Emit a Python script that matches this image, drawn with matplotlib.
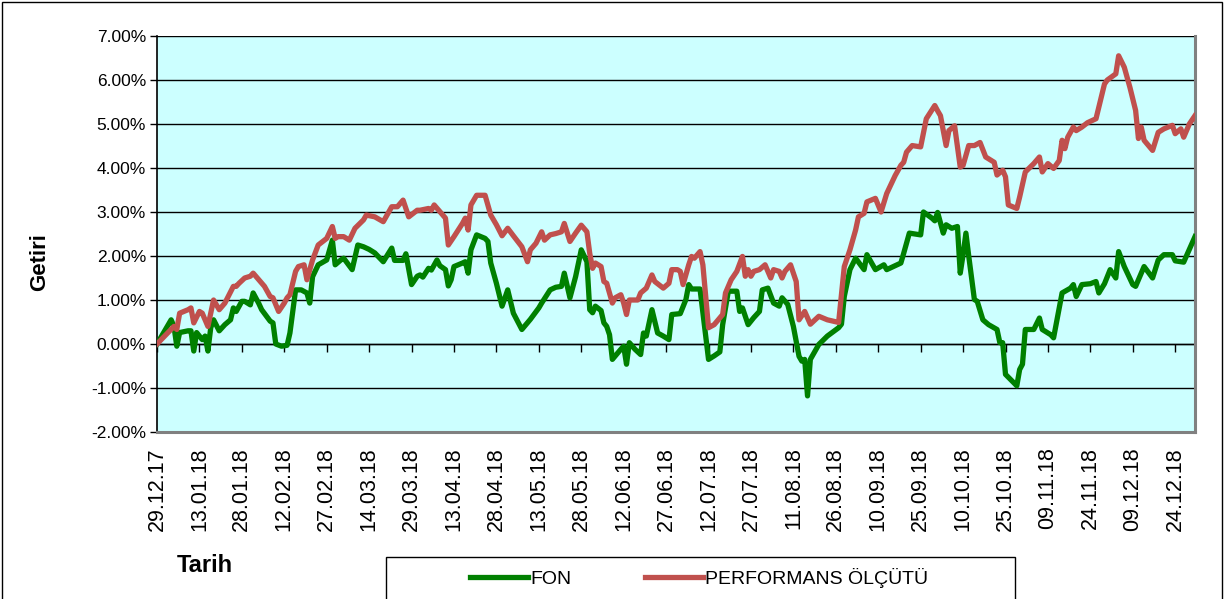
import matplotlib
matplotlib.use("Agg")
import matplotlib.pyplot as plt
from matplotlib.ticker import FuncFormatter
from matplotlib.patches import Rectangle
import pandas as pd

# ---------------- data (cumulative return, %) ----------------
fon_dates = [
    "2017-12-29", "2018-01-03", "2018-01-04", "2018-01-05", "2018-01-06", "2018-01-09", "2018-01-10",
    "2018-01-11", "2018-01-12", "2018-01-14", "2018-01-15", "2018-01-16", "2018-01-17", "2018-01-18",
    "2018-01-20", "2018-01-22", "2018-01-24", "2018-01-25", "2018-01-26", "2018-01-28", "2018-01-29",
    "2018-01-31",
    "2018-02-01", "2018-02-03", "2018-02-04", "2018-02-07", "2018-02-08", "2018-02-09", "2018-02-11",
    "2018-02-13", "2018-02-14", "2018-02-16", "2018-02-18", "2018-02-20", "2018-02-21", "2018-02-22",
    "2018-02-24", "2018-02-27",
    "2018-03-01", "2018-03-02", "2018-03-04", "2018-03-05", "2018-03-08", "2018-03-10", "2018-03-12",
    "2018-03-14", "2018-03-16", "2018-03-19", "2018-03-22", "2018-03-23", "2018-03-26", "2018-03-27",
    "2018-03-29", "2018-03-31",
    "2018-04-01", "2018-04-02", "2018-04-04", "2018-04-05", "2018-04-07", "2018-04-08", "2018-04-10",
    "2018-04-11", "2018-04-12", "2018-04-13", "2018-04-16", "2018-04-17", "2018-04-18", "2018-04-19",
    "2018-04-21", "2018-04-24", "2018-04-25", "2018-04-26", "2018-04-28", "2018-04-30",
    "2018-05-02", "2018-05-04", "2018-05-07", "2018-05-10", "2018-05-13", "2018-05-14", "2018-05-17",
    "2018-05-19", "2018-05-21", "2018-05-22", "2018-05-24", "2018-05-26", "2018-05-28", "2018-05-30",
    "2018-05-31",
    "2018-06-01", "2018-06-02", "2018-06-04", "2018-06-05", "2018-06-06", "2018-06-07", "2018-06-08",
    "2018-06-11", "2018-06-12", "2018-06-13", "2018-06-14", "2018-06-16", "2018-06-18", "2018-06-19",
    "2018-06-20", "2018-06-22", "2018-06-24", "2018-06-26", "2018-06-28", "2018-06-29",
    "2018-07-02", "2018-07-04", "2018-07-05", "2018-07-06", "2018-07-09", "2018-07-12", "2018-07-14",
    "2018-07-16", "2018-07-17", "2018-07-19", "2018-07-22", "2018-07-23", "2018-07-24", "2018-07-26",
    "2018-07-28", "2018-07-30", "2018-07-31",
    "2018-08-02", "2018-08-04", "2018-08-06", "2018-08-07", "2018-08-09", "2018-08-11", "2018-08-13",
    "2018-08-14", "2018-08-15", "2018-08-16", "2018-08-17", "2018-08-20", "2018-08-23", "2018-08-27",
    "2018-08-28", "2018-08-29", "2018-08-31",
    "2018-09-02", "2018-09-05", "2018-09-06", "2018-09-09", "2018-09-12", "2018-09-13", "2018-09-18",
    "2018-09-19", "2018-09-21", "2018-09-25", "2018-09-26", "2018-09-29", "2018-09-30",
    "2018-10-01", "2018-10-03", "2018-10-04", "2018-10-06", "2018-10-08", "2018-10-09", "2018-10-10",
    "2018-10-11", "2018-10-12", "2018-10-14", "2018-10-15", "2018-10-17", "2018-10-19", "2018-10-22",
    "2018-10-23", "2018-10-24", "2018-10-25", "2018-10-29", "2018-10-30", "2018-10-31",
    "2018-11-01", "2018-11-04", "2018-11-06", "2018-11-07", "2018-11-10", "2018-11-11", "2018-11-13",
    "2018-11-14", "2018-11-17", "2018-11-18", "2018-11-19", "2018-11-21", "2018-11-24", "2018-11-26",
    "2018-11-27", "2018-11-29",
    "2018-12-01", "2018-12-03", "2018-12-04", "2018-12-06", "2018-12-09", "2018-12-10", "2018-12-13",
    "2018-12-16", "2018-12-18", "2018-12-20", "2018-12-23", "2018-12-24", "2018-12-27", "2018-12-31",
]
fon_values = [
    0.00, 0.55, 0.40, -0.05, 0.26, 0.30, 0.30, -0.16, 0.26, 0.10, 0.18, -0.16, 0.37, 0.55, 0.30, 0.44,
    0.55, 0.82, 0.74, 0.97, 0.97, 0.89,
    1.16, 0.92, 0.78, 0.52, 0.48, 0.00, -0.05, -0.03, 0.25, 1.23, 1.23, 1.16, 0.93, 1.53, 1.80, 1.91,
    2.36, 1.80, 1.91, 1.95, 1.69, 2.25, 2.21, 2.15, 2.07, 1.87, 2.18, 1.90, 1.90, 2.05, 1.35, 1.54,
    1.57, 1.52, 1.72, 1.68, 1.91, 1.78, 1.69, 1.32, 1.46, 1.76, 1.84, 1.87, 1.61, 2.14, 2.48, 2.40,
    2.33, 1.84, 1.38, 0.86,
    1.23, 0.70, 0.33, 0.56, 0.82, 0.93, 1.23, 1.29, 1.31, 1.61, 1.05, 1.53, 2.14, 1.87, 0.78,
    0.71, 0.86, 0.76, 0.48, 0.40, 0.21, -0.35, -0.12, -0.05, -0.46, 0.03, -0.12, -0.24, 0.25, 0.18,
    0.78, 0.25, 0.18, 0.10, 0.67,
    0.69, 1.01, 1.35, 1.25, 1.25, -0.35, -0.27, -0.18, 0.44, 1.20, 1.20, 0.74, 0.82, 0.44, 0.60,
    0.74, 1.23,
    1.27, 0.93, 0.86, 1.05, 0.90, 0.40, -0.28, -0.39, -0.35, -1.18, -0.35, -0.01, 0.18, 0.37, 0.45,
    1.08, 1.69,
    1.95, 1.69, 2.03, 1.69, 1.80, 1.69, 1.84, 2.06, 2.52, 2.48, 3.00, 2.86, 2.80,
    2.99, 2.52, 2.71, 2.63, 2.67, 1.61, 2.03, 2.52, 2.00, 1.01, 0.97, 0.55, 0.44, 0.33, 0.03, 0.03,
    -0.69, -0.95, -0.58, -0.46,
    0.33, 0.33, 0.59, 0.33, 0.21, 0.14, 0.82, 1.16, 1.27, 1.35, 1.08, 1.35, 1.37, 1.42, 1.16, 1.37,
    1.69, 1.50, 2.10, 1.76, 1.35, 1.31, 1.76, 1.50, 1.91, 2.03, 2.03, 1.89, 1.86, 2.44,
]

perf_dates = [
    "2017-12-29", "2018-01-04", "2018-01-05", "2018-01-06", "2018-01-09", "2018-01-10", "2018-01-11",
    "2018-01-13", "2018-01-14", "2018-01-16", "2018-01-18", "2018-01-20", "2018-01-22", "2018-01-25",
    "2018-01-26", "2018-01-27", "2018-01-29", "2018-01-31",
    "2018-02-01", "2018-02-03", "2018-02-05", "2018-02-07", "2018-02-08", "2018-02-10", "2018-02-12",
    "2018-02-13", "2018-02-14", "2018-02-16", "2018-02-17", "2018-02-19", "2018-02-20", "2018-02-22",
    "2018-02-24", "2018-02-27",
    "2018-03-01", "2018-03-02", "2018-03-03", "2018-03-05", "2018-03-07", "2018-03-09", "2018-03-12",
    "2018-03-13", "2018-03-16", "2018-03-19", "2018-03-22", "2018-03-24", "2018-03-26", "2018-03-28",
    "2018-03-31",
    "2018-04-01", "2018-04-04", "2018-04-05", "2018-04-06", "2018-04-08", "2018-04-10", "2018-04-11",
    "2018-04-13", "2018-04-16", "2018-04-17", "2018-04-18", "2018-04-19", "2018-04-21", "2018-04-24",
    "2018-04-26", "2018-04-28", "2018-04-30",
    "2018-05-02", "2018-05-04", "2018-05-07", "2018-05-09", "2018-05-10", "2018-05-12", "2018-05-14",
    "2018-05-15", "2018-05-17", "2018-05-19", "2018-05-21", "2018-05-22", "2018-05-24", "2018-05-26",
    "2018-05-28", "2018-05-30", "2018-05-31",
    "2018-06-01", "2018-06-02", "2018-06-04", "2018-06-05", "2018-06-06", "2018-06-08", "2018-06-09",
    "2018-06-11", "2018-06-12", "2018-06-13", "2018-06-14", "2018-06-17", "2018-06-18", "2018-06-20",
    "2018-06-22", "2018-06-23", "2018-06-26", "2018-06-28", "2018-06-29",
    "2018-07-01", "2018-07-02", "2018-07-03", "2018-07-05", "2018-07-06", "2018-07-07", "2018-07-09",
    "2018-07-10", "2018-07-12", "2018-07-14", "2018-07-17", "2018-07-18", "2018-07-20", "2018-07-22",
    "2018-07-24", "2018-07-25", "2018-07-26", "2018-07-27", "2018-07-28", "2018-07-30",
    "2018-08-01", "2018-08-03", "2018-08-04", "2018-08-06", "2018-08-07", "2018-08-08", "2018-08-10",
    "2018-08-12", "2018-08-13", "2018-08-15", "2018-08-17", "2018-08-20", "2018-08-23", "2018-08-27",
    "2018-08-29", "2018-08-31",
    "2018-09-02", "2018-09-03", "2018-09-05", "2018-09-06", "2018-09-09", "2018-09-11", "2018-09-13",
    "2018-09-16", "2018-09-18", "2018-09-19", "2018-09-20", "2018-09-22", "2018-09-25", "2018-09-27",
    "2018-09-30",
    "2018-10-01", "2018-10-02", "2018-10-04", "2018-10-05", "2018-10-07", "2018-10-09", "2018-10-10",
    "2018-10-12", "2018-10-14", "2018-10-16", "2018-10-18", "2018-10-21", "2018-10-22", "2018-10-24",
    "2018-10-25", "2018-10-26", "2018-10-29", "2018-10-30",
    "2018-11-01", "2018-11-04", "2018-11-06", "2018-11-07", "2018-11-09", "2018-11-11", "2018-11-13",
    "2018-11-14", "2018-11-15", "2018-11-16", "2018-11-18", "2018-11-19", "2018-11-21", "2018-11-23",
    "2018-11-26", "2018-11-29", "2018-11-30",
    "2018-12-03", "2018-12-04", "2018-12-06", "2018-12-08", "2018-12-10", "2018-12-11", "2018-12-12",
    "2018-12-13", "2018-12-16", "2018-12-18", "2018-12-20", "2018-12-23", "2018-12-24", "2018-12-26",
    "2018-12-27", "2018-12-29", "2018-12-31",
]
perf_values = [
    0.00, 0.40, 0.33, 0.70, 0.78, 0.82, 0.48, 0.74, 0.70, 0.40, 1.00, 0.78, 0.93, 1.31, 1.31, 1.38,
    1.50, 1.54,
    1.61, 1.46, 1.31, 1.08, 1.05, 0.74, 0.93, 1.05, 1.12, 1.65, 1.76, 1.80, 1.46, 1.91, 2.25, 2.40,
    2.67, 2.40, 2.44, 2.44, 2.36, 2.63, 2.82, 2.93, 2.89, 2.78, 3.12, 3.12, 3.27, 2.89, 3.04,
    3.04, 3.08, 3.04, 3.16, 3.01, 2.86, 2.25, 2.44, 2.74, 2.86, 2.59, 3.16, 3.38, 3.38, 2.93, 2.71,
    2.46,
    2.63, 2.46, 2.21, 1.87, 2.14, 2.29, 2.55, 2.36, 2.48, 2.51, 2.55, 2.74, 2.33, 2.52, 2.70, 2.55,
    2.06,
    1.72, 1.84, 1.76, 1.42, 1.38, 0.93, 1.05, 1.12, 0.93, 0.67, 1.00, 1.00, 1.16, 1.27, 1.57, 1.42,
    1.27, 1.38, 1.69,
    1.69, 1.65, 1.35, 1.80, 1.99, 1.95, 2.10, 1.80, 0.37, 0.44, 0.67, 1.16, 1.46, 1.65, 1.99, 1.54,
    1.69, 1.54, 1.65, 1.69,
    1.80, 1.50, 1.69, 1.65, 1.50, 1.65, 1.80, 1.42, 0.55, 0.74, 0.45, 0.63, 0.55, 0.49, 1.76, 2.14,
    2.59, 2.89, 2.97, 3.23, 3.31, 3.00, 3.42, 3.83, 4.06, 4.13, 4.36, 4.51, 4.48, 5.12, 5.42,
    5.30, 5.19, 4.51, 4.85, 4.96, 4.02, 4.06, 4.51, 4.51, 4.58, 4.25, 4.13, 3.84, 3.95, 3.80, 3.16,
    3.08, 3.34,
    3.91, 4.10, 4.25, 3.91, 4.10, 3.99, 4.17, 4.63, 4.44, 4.70, 4.93, 4.85, 4.93, 5.03, 5.12, 5.91,
    6.00,
    6.14, 6.55, 6.29, 5.83, 5.31, 4.67, 4.93, 4.63, 4.40, 4.81, 4.89, 4.97, 4.78, 4.89, 4.70, 5.00,
    5.19,
]

x_tick_labels = [
    "29.12.17", "13.01.18", "28.01.18", "12.02.18", "27.02.18", "14.03.18", "29.03.18", "13.04.18",
    "28.04.18", "13.05.18", "28.05.18", "12.06.18", "27.06.18", "12.07.18", "27.07.18", "11.08.18",
    "26.08.18", "10.09.18", "25.09.18", "10.10.18", "25.10.18", "09.11.18", "24.11.18", "09.12.18",
    "24.12.18",
]
y_ticks = [-2, -1, 0, 1, 2, 3, 4, 5, 6, 7]
series_names = ["FON", "PERFORMANS ÖLÇÜTÜ"]
x_start, x_end = "2017-12-29", "2018-12-31"

# ---------------- figure ----------------
plt.rcParams["font.family"] = ["Liberation Sans", "DejaVu Sans"]
W, H = 1227, 599
fig = plt.figure(figsize=(W / 100, H / 100), dpi=100)
fig.patch.set_facecolor("white")

L, R, T, B = 157, 1195, 36, 432
ax = fig.add_axes([L / W, 1 - B / H, (R - L) / W, (B - T) / H])
ax.set_facecolor("#CCFFFF")

fon_x = pd.to_datetime(fon_dates)
perf_x = pd.to_datetime(perf_dates)
l_fon, = ax.plot(fon_x, fon_values, color="#008000", lw=3.8, solid_joinstyle="round", zorder=3)
l_perf, = ax.plot(perf_x, perf_values, color="#C0504D", lw=3.8, solid_joinstyle="round", zorder=4)

ax.set_xlim(pd.Timestamp(x_start), pd.Timestamp(x_end))
ax.set_ylim(min(y_ticks), max(y_ticks))
ax.set_yticks(y_ticks)
ax.yaxis.set_major_formatter(FuncFormatter(lambda v, p: f"{v:.2f}%"))
ax.yaxis.grid(True, color="black", lw=1.0)
ax.set_axisbelow(True)
ax.tick_params(axis="y", direction="out", length=5, width=1, color="black",
               labelsize=12.5, pad=3)

tick_dates = pd.to_datetime(x_tick_labels, format="%d.%m.%y")
ax.set_xticks(tick_dates)
ax.set_xticklabels(x_tick_labels, rotation=90, fontsize=15.5, va="top", ha="center")
ax.tick_params(axis="x", length=0, pad=11)

ax.spines["top"].set_visible(False)
ax.spines["left"].set_color("black")
ax.spines["left"].set_linewidth(1.2)
ax.spines["right"].set_color("#808080")
ax.spines["right"].set_linewidth(2.2)
ax.spines["bottom"].set_color("#808080")
ax.spines["bottom"].set_linewidth(2.2)

# category axis crossing at 0 with tick marks
zero_pos = (0 - min(y_ticks)) / (max(y_ticks) - min(y_ticks))
sec = ax.secondary_xaxis(zero_pos)
sec.set_xticks(tick_dates)
sec.tick_params(axis="x", direction="out", length=6, width=1, color="black", labelbottom=False,
                labeltop=False)
sec.spines["bottom"].set_color("black")
sec.spines["bottom"].set_linewidth(1.0)

# axis titles
fig.text(40 / W, 1 - 262 / H, "Getiri", rotation=90, fontsize=16, fontweight="bold",
         ha="center", va="center")
fig.text(205 / W, 1 - 566 / H, "Tarih", fontsize=17, fontweight="bold", ha="center", va="center")

# legend
fig.add_artist(Rectangle((386 / W, -0.05), (1015 - 386) / W, 0.05 + 1 - 557 / H,
                         transform=fig.transFigure, fill=False, edgecolor="black", lw=1.0))
fig.legend([l_fon, l_perf], series_names, loc="center left",
           bbox_to_anchor=(470 / W, 1 - 578 / H), bbox_transform=fig.transFigure,
           ncol=2, frameon=False, fontsize=14, handlelength=3.0, handletextpad=0.12,
           columnspacing=3.75, borderpad=0, borderaxespad=0)

# outer chart border
fig.add_artist(Rectangle((2 / W, -0.05), (1222 - 2) / W, 1.05 - 2 / H,
                         transform=fig.transFigure, fill=False, edgecolor="black", lw=1.0))

fig.savefig("out.png", dpi=100)
